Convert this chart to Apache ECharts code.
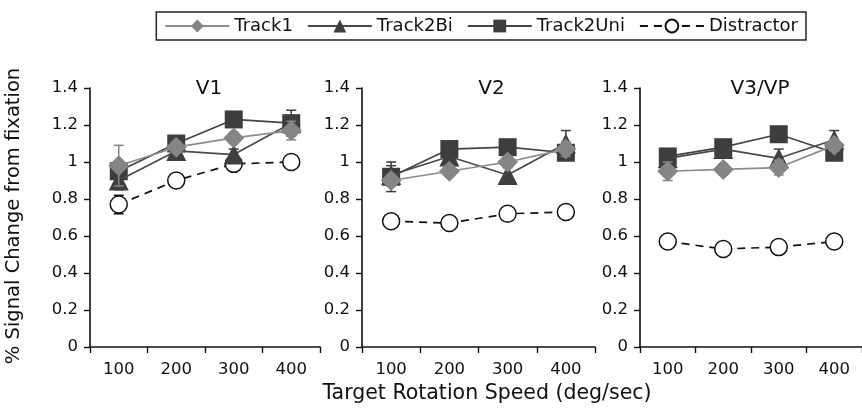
<!DOCTYPE html>
<html>
<head>
<meta charset="utf-8">
<script src="https://cdn.jsdelivr.net/npm/echarts@6/dist/echarts.min.js"></script>
<style>
  html, body { margin: 0; padding: 0; background: #fff; }
  #chart { width: 862px; height: 415px; }
</style>
</head>
<body>
<div id="chart"></div>
<script>
// ---- data ----
const categories = ['100', '200', '300', '400'];
const panelTitles = ['V1', 'V2', 'V3/VP'];
const seriesNames = ['Track1', 'Track2Bi', 'Track2Uni', 'Distractor'];

// V1
const v1Track1 = [0.98, 1.08, 1.13, 1.17];
const v1Track2Bi = [0.90, 1.06, 1.04, 1.21];
const v1Track2Uni = [0.95, 1.10, 1.23, 1.21];
const v1Distractor = [0.77, 0.90, 0.99, 1.00];
const v1Track1Err = [0.11, 0.03, 0.03, 0.05];
const v1Track2BiErr = [0.05, 0.05, 0.03, 0.07];
const v1Track2UniErr = [0.04, 0.03, 0.03, 0.04];
const v1DistractorErr = [0.05, 0.02, 0.02, 0.02];

// V2
const v2Track1 = [0.90, 0.95, 1.00, 1.07];
const v2Track2Bi = [0.93, 1.03, 0.93, 1.10];
const v2Track2Uni = [0.92, 1.07, 1.08, 1.05];
const v2Distractor = [0.68, 0.67, 0.72, 0.73];
const v2Track1Err = [0.03, 0.03, 0.03, 0.04];
const v2Track2BiErr = [0.05, 0.04, 0.04, 0.07];
const v2Track2UniErr = [0.08, 0.03, 0.03, 0.03];
const v2DistractorErr = [0.02, 0.02, 0.02, 0.02];

// V3/VP
const v3Track1 = [0.95, 0.96, 0.97, 1.09];
const v3Track2Bi = [1.02, 1.07, 1.02, 1.12];
const v3Track2Uni = [1.03, 1.08, 1.15, 1.05];
const v3Distractor = [0.57, 0.53, 0.54, 0.57];
const v3Track1Err = [0.05, 0.03, 0.04, 0.03];
const v3Track2BiErr = [0.04, 0.03, 0.05, 0.05];
const v3Track2UniErr = [0.03, 0.03, 0.03, 0.03];
const v3DistractorErr = [0.02, 0.02, 0.02, 0.02];

const yMin = 0, yMax = 1.4, yInterval = 0.2;
const xTitle = 'Target Rotation Speed (deg/sec)';
const yTitle = '% Signal Change from fixation';

const panelValues = [
  [v1Track1, v1Track2Bi, v1Track2Uni, v1Distractor],
  [v2Track1, v2Track2Bi, v2Track2Uni, v2Distractor],
  [v3Track1, v3Track2Bi, v3Track2Uni, v3Distractor]
];
const panelErrors = [
  [v1Track1Err, v1Track2BiErr, v1Track2UniErr, v1DistractorErr],
  [v2Track1Err, v2Track2BiErr, v2Track2UniErr, v2DistractorErr],
  [v3Track1Err, v3Track2BiErr, v3Track2UniErr, v3DistractorErr]
];

// ---- styles ----
const FONT = 'DejaVu Sans';
const grids = [
  { left: 90, top: 88, width: 230, height: 259 },
  { left: 362, top: 88, width: 233, height: 259 },
  { left: 640, top: 88, width: 232, height: 259 }
];
const styles = {
  Track1: { symbol: 'diamond', size: 21, color: '#858585', line: '#8c8c8c', type: 'solid', z: 5 },
  Track2Bi: { symbol: 'triangle', size: 20, color: '#3f3f3f', line: '#4a4a4a', type: 'solid', z: 4 },
  Track2Uni: { symbol: 'rect', size: 18, color: '#3d3d3d', line: '#444444', type: 'solid', z: 3 },
  Distractor: { symbol: 'circle', size: 17, color: '#ffffff', line: '#111111', type: [8, 6], z: 2 }
};
// draw order (bottom to top)
const drawOrder = ['Distractor', 'Track2Uni', 'Track2Bi', 'Track1'];

const xAxes = grids.map((g, i) => ({
  type: 'category', gridIndex: i, data: categories,
  axisLine: { lineStyle: { color: '#111', width: 1.6 } },
  axisTick: { show: true, length: 6, lineStyle: { color: '#111', width: 1.4 } },
  axisLabel: { color: '#111', fontFamily: FONT, fontSize: 16.5, margin: 14 },
  splitLine: { show: false }
}));
const yAxes = grids.map((g, i) => ({
  type: 'value', gridIndex: i, min: yMin, max: yMax, interval: yInterval,
  axisLine: { show: true, lineStyle: { color: '#111', width: 1.6 } },
  axisTick: { show: true, length: 6, lineStyle: { color: '#111', width: 1.4 } },
  axisLabel: { color: '#111', fontFamily: FONT, fontSize: 16.5, margin: 12,
    formatter: v => String(Math.round(v * 10) / 10) },
  splitLine: { show: false }
}));

const series = [];
for (let p = 0; p < 3; p++) {
  drawOrder.forEach(name => {
    const k = seriesNames.indexOf(name);
    const st = styles[name];
    const vals = panelValues[p][k];
    const errs = panelErrors[p][k];
    // error bars
    series.push({
      type: 'custom', xAxisIndex: p, yAxisIndex: p, silent: true,
      z: st.z, legendHoverLink: false,
      data: vals.map((v, i) => [i, v - errs[i], v + errs[i]]),
      renderItem: function (params, api) {
        const lo = api.coord([api.value(0), api.value(1)]);
        const hi = api.coord([api.value(0), api.value(2)]);
        const hw = 5;
        const lineColor = name === 'Distractor' ? '#111' : st.color;
        const s = { stroke: lineColor, lineWidth: 1.5 };
        return { type: 'group', children: [
          { type: 'line', shape: { x1: lo[0], y1: lo[1], x2: hi[0], y2: hi[1] }, style: s },
          { type: 'line', shape: { x1: lo[0] - hw, y1: lo[1], x2: lo[0] + hw, y2: lo[1] }, style: s },
          { type: 'line', shape: { x1: hi[0] - hw, y1: hi[1], x2: hi[0] + hw, y2: hi[1] }, style: s }
        ]};
      }
    });
    series.push({
      type: 'line', name: name, xAxisIndex: p, yAxisIndex: p,
      data: vals, z: st.z + 0.5,
      symbol: st.symbol, symbolSize: st.size, showAllSymbol: true,
      lineStyle: { color: st.line, width: 1.7, type: st.type },
      itemStyle: name === 'Distractor'
        ? { color: '#ffffff', borderColor: '#111', borderWidth: 1.5 }
        : { color: st.color, borderWidth: 0 },
      emphasis: { disabled: true },
      animation: false
    });
  });
}

const graphics = panelTitles.map((t, i) => ({
  type: 'text',
  x: grids[i].left + grids[i].width / 2 + (i === 1 ? 13 : 4),
  y: 89,
  style: { text: t, fontFamily: FONT, fontSize: 20, fill: '#111', align: 'center', verticalAlign: 'middle' }
}));
graphics.push({
  type: 'text', x: 487, y: 394,
  style: { text: xTitle, fontFamily: FONT, fontSize: 20.5, fill: '#111', align: 'center', verticalAlign: 'middle' }
});
graphics.push({
  type: 'text', x: 14, y: 216, rotation: Math.PI / 2,
  style: { text: yTitle, fontFamily: FONT, fontSize: 19.5, fill: '#111', align: 'center', verticalAlign: 'middle' }
});

const chart = echarts.init(document.getElementById('chart'), null, { renderer: 'canvas' });
chart.setOption({
  backgroundColor: '#ffffff',
  animation: false,
  textStyle: { fontFamily: FONT },
  legend: {
    data: seriesNames.map(n => ({ name: n })),
    right: 56, top: 12,
    orient: 'horizontal',
    itemWidth: 64, itemHeight: 16, itemGap: 14,
    padding: [5, 8, 5, 8],
    borderColor: '#222', borderWidth: 1.5,
    textStyle: { fontFamily: FONT, fontSize: 18, color: '#111' },
    selectedMode: false
  },
  grid: grids.map(g => Object.assign({ containLabel: false }, g)),
  xAxis: xAxes,
  yAxis: yAxes,
  series: series,
  graphic: graphics
});
</script>
</body>
</html>
